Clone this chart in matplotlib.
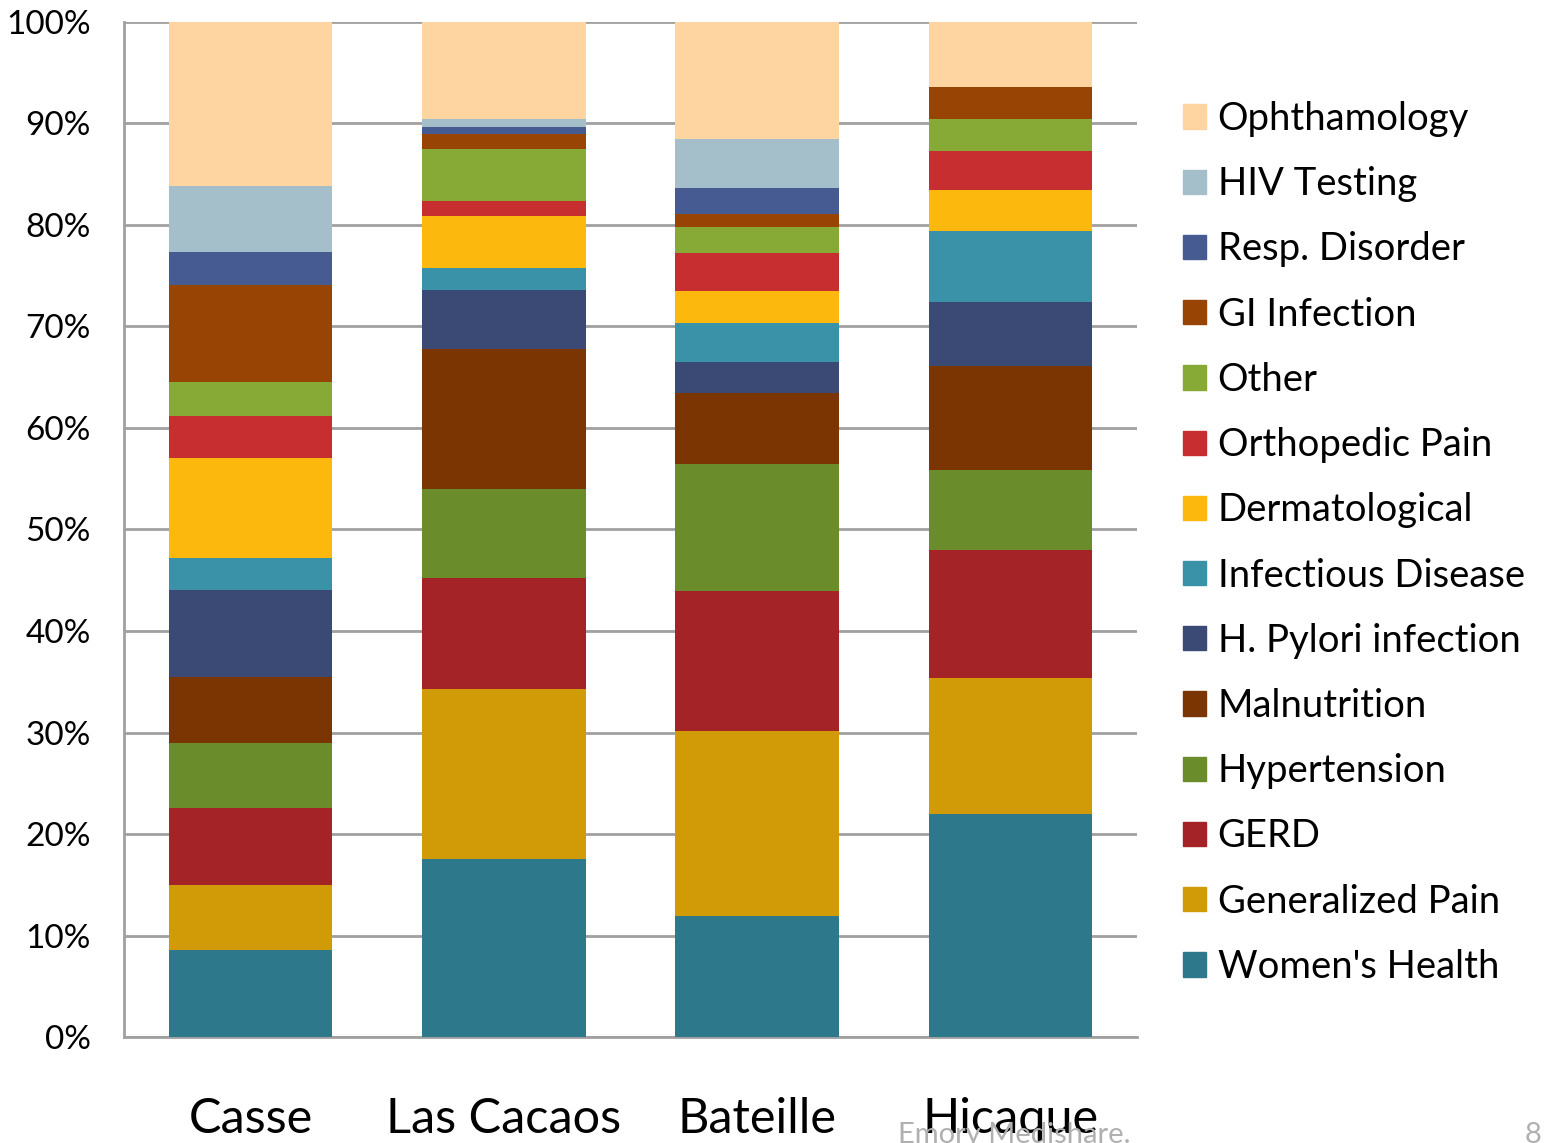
import numpy as np
import matplotlib.pyplot as plt
from matplotlib.patches import Patch

plt.rcParams['font.family'] = ['Lato', 'DejaVu Sans']

sites = ['Casse', 'Las Cacaos', 'Bateille', 'Hicaque']

# category names, bottom to top
categories = ["Women's Health", 'Generalized Pain', 'GERD', 'Hypertension',
              'Malnutrition', 'H. Pylori infection', 'Infectious Disease',
              'Dermatological', 'Orthopedic Pain', 'Other', 'GI Infection',
              'Resp. Disorder', 'HIV Testing', 'Ophthamology']

colors = ['#2E788C', '#D19A07', '#A32326', '#6B8C2A', '#7A3503', '#3A4A75',
          '#3A92A8', '#FDB80E', '#C62E30', '#86AA35', '#984405', '#465B92',
          '#A5BFCA', '#FED5A1']

# shares in percent, per site, bottom to top
casse = [8.6, 6.4, 7.6, 6.4, 6.5, 8.5, 3.2, 9.8, 4.2, 3.3, 9.6, 3.2, 6.5, 16.3]
las_cacaos = [17.5, 16.8, 10.9, 8.8, 13.8, 5.8, 2.2, 5.1, 1.5, 5.1, 1.5, 0.7, 0.7, 9.6]
bateille = [11.9, 18.2, 13.8, 12.6, 6.9, 3.1, 3.8, 3.2, 3.7, 2.6, 1.3, 2.5, 4.9, 11.5]
hicaque = [22.0, 13.4, 12.6, 7.9, 10.2, 6.3, 7.0, 4.0, 3.9, 3.1, 3.2, 0.0, 0.0, 6.4]

data = np.array([casse, las_cacaos, bateille, hicaque])


def main():
    fig = plt.figure(figsize=(15.45, 11.43), dpi=100)
    ax = fig.add_axes([0.0803, 0.0927, 0.6556, 0.8881])

    x = np.arange(len(sites))
    bottom = np.zeros(len(sites))
    for i in range(len(categories)):
        ax.bar(x, data[:, i], 0.645, bottom=bottom, color=colors[i], zorder=3)
        bottom += data[:, i]

    ax.set_xlim(-0.5, 3.5)
    ax.set_ylim(0, 100)
    ax.set_yticks(np.arange(0, 101, 10))
    ax.set_yticklabels([str(v) + '%' for v in range(0, 101, 10)], fontsize=24)
    ax.set_xticks(x)
    ax.set_xticklabels(sites, fontsize=35)
    ax.tick_params(axis='x', length=0, pad=43)
    ax.tick_params(axis='y', length=0, pad=24)
    ax.grid(axis='y', color='#A0A0A0', linewidth=2, zorder=0)
    for s in ['top', 'right']:
        ax.spines[s].set_visible(False)
    for s in ['left', 'bottom']:
        ax.spines[s].set_color('#A0A0A0')
        ax.spines[s].set_linewidth(2)

    handles = [Patch(color=colors[i], label=categories[i]) for i in range(len(categories))][::-1]
    fig.legend(handles=handles, loc='center left', bbox_to_anchor=(0.756, 0.525),
               frameon=False, fontsize=27.5, handlelength=0.6, handleheight=0.6,
               handletextpad=0.3, labelspacing=0.765, borderaxespad=0)

    fig.text(0.581, -0.004, 'Emory Medishare.', color='#B0B0B0', fontsize=21, va='bottom')
    fig.text(0.998, -0.004, '8', color='#B0B0B0', fontsize=21, va='bottom', ha='right')

    plt.savefig('out.png', dpi=100)


if __name__ == '__main__':
    main()
